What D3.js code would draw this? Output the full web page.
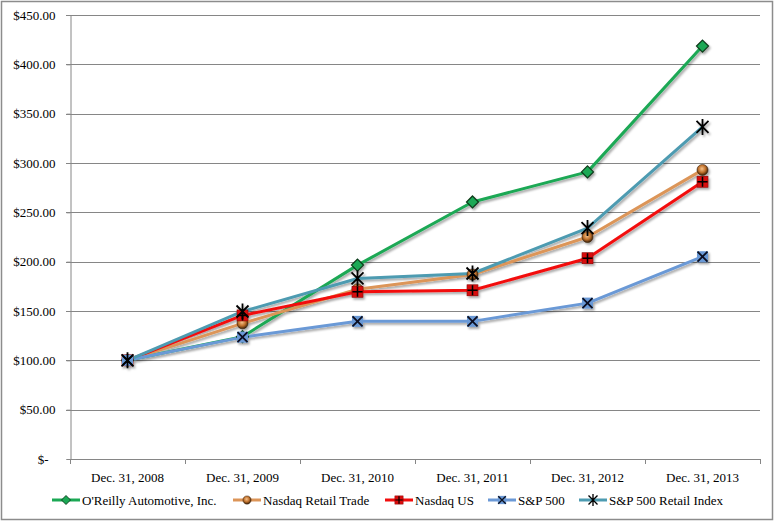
<!DOCTYPE html>
<html>
<head>
<meta charset="utf-8">
<script src="https://cdn.jsdelivr.net/npm/d3@7"></script>
<style>
  body { margin: 0; background: #fff; }
  svg { display: block; }
  text { font-family: "Liberation Serif", "Times New Roman", serif; fill: #000; }
</style>
</head>
<body>
<script>
"use strict"

const categories = ['Dec. 31, 2008', 'Dec. 31, 2009', 'Dec. 31, 2010', 'Dec. 31, 2011', 'Dec. 31, 2012', 'Dec. 31, 2013']
const y_ticks = [0, 50, 100, 150, 200, 250, 300, 350, 400, 450]

const oreilly = [100, 124, 196.5, 260.5, 291, 418.5]
const nasdaq_retail = [100, 137.5, 172, 187, 225, 293]
const nasdaq_us = [100, 145.5, 169.5, 171, 203.5, 281]
const sp500 = [100, 123.5, 139.5, 139.5, 158, 205]
const sp500_retail = [100, 149.5, 183, 188, 234, 336.5]

const series = [
   { name: "O'Reilly Automotive, Inc.", values: oreilly, color: '#1ba854', marker: 'diamond' },
   { name: 'Nasdaq Retail Trade', values: nasdaq_retail, color: '#dc9558', marker: 'circle' },
   { name: 'Nasdaq US', values: nasdaq_us, color: '#f20d0d', marker: 'plus' },
   { name: 'S&P 500', values: sp500, color: '#6b99d6', marker: 'cross' },
   { name: 'S&P 500 Retail Index', values: sp500_retail, color: '#4d9bb1', marker: 'star' }
]

const W = 775, H = 522
const pad = { left: 70, right: 760, top: 15, bottom: 459 }

const x = d3.scaleBand(categories, [pad.left, pad.right])
const y = d3.scaleLinear([0, 450], [pad.bottom, pad.top])

const svg = d3.select('body').append('svg')
   .attr('width', W)
   .attr('height', H)

const defs = svg.append('defs')
defs.append('filter')
      .attr('id', 'shadow')
      .attr('x', '-20%').attr('y', '-20%')
      .attr('width', '140%').attr('height', '140%')
   .append('feDropShadow')
      .attr('dx', 1.5).attr('dy', 2)
      .attr('stdDeviation', 1.2)
      .attr('flood-color', '#000')
      .attr('flood-opacity', 0.35)

const grad = defs.append('radialGradient')
   .attr('id', 'ball')
   .attr('cx', '45%').attr('cy', '40%').attr('r', '60%')
grad.append('stop').attr('offset', '0%').attr('stop-color', '#f6c28c')
grad.append('stop').attr('offset', '55%').attr('stop-color', '#c0712c')
grad.append('stop').attr('offset', '100%').attr('stop-color', '#3a2008')

// outer frame
svg.append('rect')
   .attr('x', 1.5).attr('y', 1.5)
   .attr('width', W - 4).attr('height', H - 4)
   .attr('fill', 'none')
   .attr('stroke', '#8c8c8c')
   .attr('stroke-width', 1.5)

// gridlines
svg.append('g')
   .selectAll('line')
   .data(y_ticks.filter(d => d > 0))
   .enter()
   .append('line')
      .attr('x1', pad.left - 4)
      .attr('x2', pad.right)
      .attr('y1', d => Math.round(y(d)) + 0.5)
      .attr('y2', d => Math.round(y(d)) + 0.5)
      .attr('stroke', '#868686')

// y axis
const y_axis = d3.axisLeft(y)
   .tickValues(y_ticks)
   .tickSize(4)
   .tickPadding(11)
   .tickFormat(d => d === 0 ? '$-' : '$' + d3.format('.2f')(d))

svg.append('g')
   .attr('transform', `translate(${pad.left + 0.5}, 0)`)
   .call(y_axis)
   .call(g => g.selectAll('path, line').attr('stroke', '#868686'))
   .call(g => g.selectAll('text')
      .attr('font-family', '"Liberation Serif", serif')
      .attr('font-size', 13)
      .attr('fill', '#000')
      .attr('dx', d => d === 0 ? -7 : 0))

// x axis
const x_line = svg.append('g')
x_line.append('line')
   .attr('x1', pad.left).attr('x2', pad.right)
   .attr('y1', pad.bottom + 0.5).attr('y2', pad.bottom + 0.5)
   .attr('stroke', '#868686')
x_line.selectAll('.tick')
   .data(categories.map(c => x(c)).concat([x.range()[1]]))
   .enter()
   .append('line')
      .attr('x1', d => Math.round(d) + 0.5)
      .attr('x2', d => Math.round(d) + 0.5)
      .attr('y1', pad.bottom)
      .attr('y2', pad.bottom + 5)
      .attr('stroke', '#868686')
x_line.selectAll('text')
   .data(categories)
   .enter()
   .append('text')
      .attr('x', d => x(d) + x.bandwidth() / 2)
      .attr('y', pad.bottom + 23)
      .attr('text-anchor', 'middle')
      .attr('font-family', '"Liberation Serif", serif')
      .attr('font-size', 13)
      .text(d => d)

function draw_marker(g, type, color) {
   if (type === 'diamond') {
      g.append('path').attr('d', 'M0,-6L6,0L0,6L-6,0Z')
         .attr('fill', color).attr('stroke', '#0a3a1a').attr('stroke-width', 1.2)
   } else if (type === 'circle') {
      g.append('circle').attr('r', 5.5)
         .attr('fill', 'url(#ball)').attr('stroke', '#3a2008').attr('stroke-width', 0.6)
   } else if (type === 'plus') {
      g.append('rect').attr('x', -5.5).attr('y', -5.5).attr('width', 11).attr('height', 11)
         .attr('fill', '#d80d0d').attr('stroke', '#8a0000').attr('stroke-width', 0.6)
      g.append('path').attr('d', 'M-5,0H5M0,-5V5')
         .attr('stroke', '#000').attr('stroke-width', 1.6)
   } else if (type === 'cross') {
      g.append('rect').attr('x', -5.5).attr('y', -5.5).attr('width', 11).attr('height', 11)
         .attr('fill', '#6b99d6')
      g.append('path').attr('d', 'M-5,-5L5,5M5,-5L-5,5')
         .attr('stroke', '#0a1020').attr('stroke-width', 1.8)
   } else if (type === 'star') {
      g.append('path').attr('d', 'M-6,-6L6,6M6,-6L-6,6M0,-8V8')
         .attr('stroke', '#000').attr('stroke-width', 1.8)
   }
}

const line = d3.line()
   .x((d, i) => x(categories[i]) + x.bandwidth() / 2)
   .y(d => y(d))

const plot = svg.append('g').attr('filter', 'url(#shadow)')

series.forEach(s => {
   plot.append('path')
      .datum(s.values)
      .attr('d', line)
      .attr('fill', 'none')
      .attr('stroke', s.color)
      .attr('stroke-width', 3)
      .attr('stroke-linejoin', 'round')
})

series.forEach(s => {
   s.values.forEach((v, i) => {
      const g = plot.append('g')
         .attr('transform', `translate(${x(categories[i]) + x.bandwidth() / 2}, ${y(v)})`)
      draw_marker(g, s.marker, s.color)
   })
})

// legend
const legend_x = [52, 233, 385, 488, 579]
const legend_y = 500
const legend = svg.append('g')
series.forEach((s, i) => {
   const g = legend.append('g').attr('transform', `translate(${legend_x[i]}, ${legend_y})`)
   g.append('line')
      .attr('x1', 0).attr('x2', 28)
      .attr('stroke', s.color)
      .attr('stroke-width', 3)
   const m = g.append('g')
   draw_marker(m, s.marker, s.color)
   m.attr('transform', 'translate(14, 0) scale(0.75)')
   g.append('text')
      .attr('x', 30)
      .attr('y', 4.5)
      .attr('font-family', '"Liberation Serif", serif')
      .attr('font-size', 13)
      .text(s.name)
})
</script>
</body>
</html>
